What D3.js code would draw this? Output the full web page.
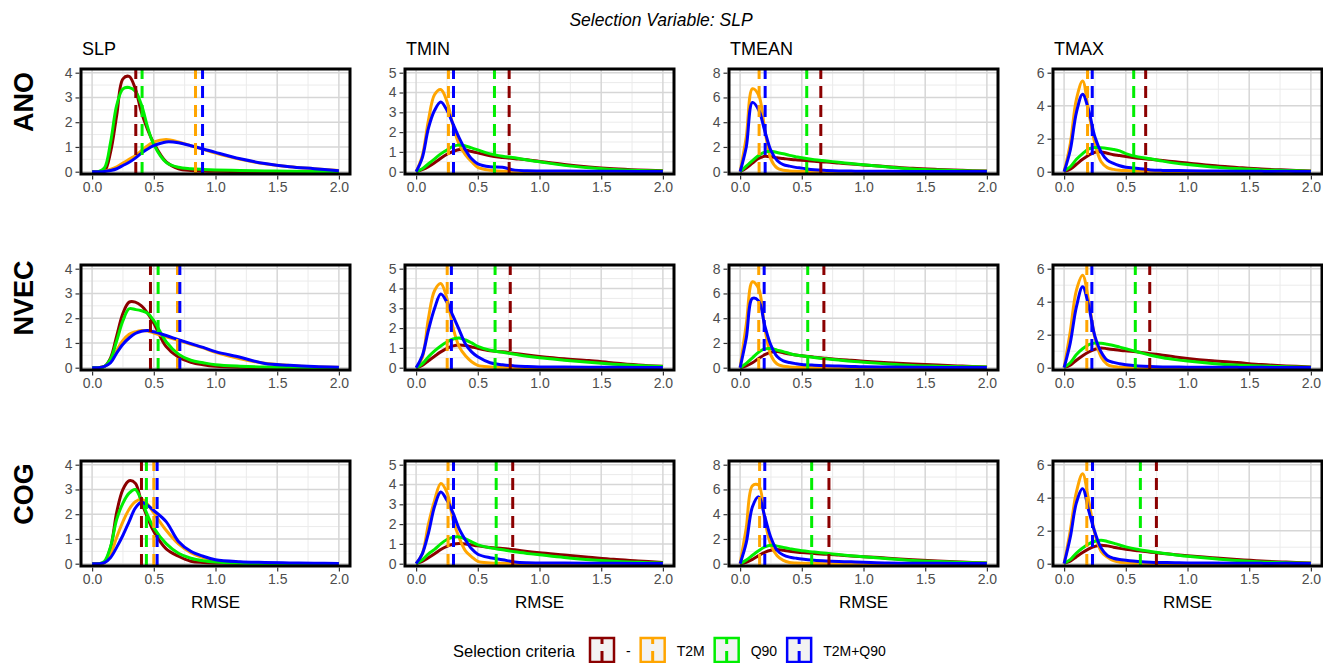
<!DOCTYPE html>
<html>
<head>
<meta charset="utf-8">
<script src="https://cdn.jsdelivr.net/npm/d3@7"></script>
<style>
    body { margin: 0; background: #fff; }
    text { font-family: "Liberation Sans", Arial, sans-serif; }
</style>
</head>
<body>
<div id="chart"></div>
<script>
// evaluation points of the density curves (RMSE)
const XS = [0, 0.05, 0.1, 0.15, 0.2, 0.25, 0.3, 0.35, 0.4, 0.45, 0.5, 0.6, 0.7, 0.8, 0.9, 1.0, 1.2, 1.4, 1.6, 1.8, 2.0];

const METHODS = ["ANO", "NVEC", "COG"];
const VARIABLES = ["SLP", "TMIN", "TMEAN", "TMAX"];
const CRITERIA = ["-", "T2M", "Q90", "T2M+Q90"];
const COLORS = ["#8b0000", "#ffa500", "#00ee00", "#0000ff"];
const X_TICKS = [0, 0.5, 1, 1.5, 2];
const Y_TICK_MAX = [4, 5, 8, 6];
const Y_TICK_STEP = [1, 1, 2, 2];

// densities per panel, series order: -, T2M, Q90, T2M+Q90
const ANO_SLP = [
    [0, 0, 0.02, 0.8, 2.3, 3.75, 3.85, 3.35, 2.4, 1.7, 1.15, 0.4, 0.12, 0.05, 0.03, 0.02, 0.01, 0, 0, 0, 0],
    [0, 0, 0.02, 0.1, 0.2, 0.35, 0.5, 0.65, 0.85, 1.05, 1.2, 1.3, 1.2, 1.05, 0.9, 0.75, 0.5, 0.32, 0.2, 0.12, 0.05],
    [0, 0, 0.15, 1.2, 2.7, 3.35, 3.4, 3.25, 2.7, 1.8, 1.1, 0.38, 0.18, 0.12, 0.09, 0.07, 0.05, 0.03, 0.02, 0.01, 0],
    [0, 0, 0.01, 0.05, 0.12, 0.25, 0.38, 0.55, 0.75, 0.92, 1.05, 1.2, 1.17, 1.05, 0.92, 0.78, 0.52, 0.33, 0.2, 0.12, 0.04]
];
const ANO_TMIN = [
    [0, 0.1, 0.25, 0.45, 0.68, 0.88, 1.02, 1.12, 1.1, 1.02, 0.95, 0.8, 0.72, 0.66, 0.6, 0.52, 0.36, 0.24, 0.15, 0.09, 0.05],
    [0, 0.8, 2.6, 3.9, 4.15, 3.55, 2.3, 1.35, 0.85, 0.5, 0.22, 0.07, 0.02, 0.01, 0, 0, 0, 0, 0, 0, 0],
    [0, 0.15, 0.4, 0.65, 0.9, 1.1, 1.28, 1.35, 1.3, 1.2, 1.1, 0.9, 0.78, 0.7, 0.59, 0.5, 0.32, 0.2, 0.11, 0.06, 0.03],
    [0, 0.7, 2.2, 3.1, 3.52, 3.1, 2.4, 1.7, 1.1, 0.65, 0.4, 0.25, 0.22, 0.08, 0.05, 0.04, 0.03, 0.02, 0.02, 0.01, 0.01]
];
const ANO_TMEAN = [
    [0, 0.3, 0.7, 1.08, 1.24, 1.2, 1.12, 1.07, 1.0, 0.96, 0.92, 0.84, 0.78, 0.7, 0.62, 0.55, 0.41, 0.27, 0.18, 0.11, 0.05],
    [0, 2.8, 6.7, 6.2, 3.4, 1.0, 0.3, 0.12, 0.06, 0.03, 0.02, 0.01, 0, 0, 0, 0, 0, 0, 0, 0, 0],
    [0, 0.45, 0.9, 1.3, 1.58, 1.65, 1.55, 1.45, 1.32, 1.22, 1.12, 0.97, 0.87, 0.76, 0.66, 0.56, 0.38, 0.22, 0.13, 0.07, 0.03],
    [0, 2.0, 5.6, 5.0, 3.3, 1.7, 0.9, 0.57, 0.45, 0.35, 0.29, 0.16, 0.1, 0.06, 0.05, 0.04, 0.03, 0.02, 0.02, 0.01, 0.01]
];
const ANO_TMAX = [
    [0.02, 0.15, 0.45, 0.75, 1.0, 1.18, 1.2, 1.12, 1.03, 0.98, 0.92, 0.82, 0.75, 0.68, 0.6, 0.53, 0.37, 0.26, 0.16, 0.1, 0.05],
    [0, 1.7, 4.4, 5.5, 3.6, 1.7, 0.6, 0.25, 0.14, 0.09, 0.07, 0.04, 0.02, 0.01, 0, 0, 0, 0, 0, 0, 0],
    [0.05, 0.3, 0.75, 1.1, 1.38, 1.47, 1.45, 1.41, 1.35, 1.26, 1.1, 0.9, 0.78, 0.64, 0.52, 0.43, 0.29, 0.19, 0.11, 0.07, 0.03],
    [0, 1.3, 3.6, 4.7, 3.7, 2.1, 1.2, 0.7, 0.5, 0.36, 0.27, 0.2, 0.11, 0.08, 0.07, 0.06, 0.04, 0.03, 0.02, 0.02, 0.01]
];
const NVEC_SLP = [
    [0, 0, 0.05, 0.4, 1.3, 2.2, 2.65, 2.65, 2.5, 2.2, 1.8, 0.85, 0.42, 0.22, 0.12, 0.06, 0.02, 0.01, 0, 0, 0],
    [0, 0, 0.05, 0.25, 0.7, 1.1, 1.35, 1.45, 1.5, 1.48, 1.4, 1.25, 1.1, 0.95, 0.8, 0.62, 0.36, 0.18, 0.09, 0.04, 0.02],
    [0, 0, 0.05, 0.35, 1.1, 1.9, 2.38, 2.35, 2.3, 2.2, 1.9, 1.05, 0.55, 0.3, 0.2, 0.12, 0.06, 0.03, 0.02, 0.01, 0],
    [0, 0, 0.05, 0.2, 0.6, 0.95, 1.2, 1.38, 1.47, 1.5, 1.45, 1.3, 1.13, 0.97, 0.82, 0.65, 0.42, 0.17, 0.1, 0.05, 0.02]
];
const NVEC_TMIN = [
    [0, 0.12, 0.35, 0.58, 0.8, 0.98, 1.1, 1.15, 1.12, 1.05, 0.98, 0.86, 0.8, 0.72, 0.64, 0.57, 0.45, 0.36, 0.24, 0.14, 0.07],
    [0, 0.5, 2.5, 3.9, 4.25, 3.5, 2.0, 1.05, 0.6, 0.3, 0.12, 0.04, 0.02, 0.01, 0, 0, 0, 0, 0, 0, 0],
    [0, 0.2, 0.55, 0.85, 1.1, 1.3, 1.45, 1.5, 1.4, 1.25, 1.08, 0.88, 0.78, 0.68, 0.58, 0.5, 0.38, 0.27, 0.18, 0.11, 0.06],
    [0, 0.6, 1.9, 3.0, 3.72, 3.3, 2.6, 1.9, 1.2, 0.8, 0.55, 0.25, 0.15, 0.09, 0.06, 0.04, 0.03, 0.02, 0.02, 0.01, 0.01]
];
const NVEC_TMEAN = [
    [0, 0.15, 0.4, 0.75, 1.05, 1.25, 1.3, 1.2, 1.1, 1.02, 0.96, 0.85, 0.76, 0.67, 0.6, 0.53, 0.41, 0.3, 0.21, 0.13, 0.06],
    [0, 3.5, 6.95, 6.4, 3.2, 1.0, 0.3, 0.12, 0.06, 0.03, 0.02, 0.01, 0, 0, 0, 0, 0, 0, 0, 0, 0],
    [0, 0.35, 0.8, 1.25, 1.52, 1.55, 1.42, 1.3, 1.15, 1.03, 0.96, 0.82, 0.72, 0.62, 0.52, 0.45, 0.3, 0.18, 0.12, 0.08, 0.05],
    [0, 2.4, 5.6, 5.4, 3.4, 1.8, 0.9, 0.55, 0.42, 0.33, 0.26, 0.2, 0.16, 0.13, 0.1, 0.07, 0.05, 0.03, 0.02, 0.02, 0.01]
];
const NVEC_TMAX = [
    [0.02, 0.15, 0.45, 0.72, 0.95, 1.12, 1.2, 1.15, 1.1, 1.05, 1.02, 0.95, 0.85, 0.76, 0.65, 0.56, 0.42, 0.31, 0.19, 0.11, 0.05],
    [0, 2.2, 4.7, 5.6, 4.0, 1.8, 0.65, 0.2, 0.07, 0.03, 0.02, 0.01, 0, 0, 0, 0, 0, 0, 0, 0, 0],
    [0.03, 0.3, 0.8, 1.15, 1.4, 1.5, 1.48, 1.42, 1.35, 1.25, 1.15, 0.95, 0.75, 0.6, 0.49, 0.4, 0.26, 0.16, 0.1, 0.06, 0.03],
    [0, 1.5, 3.7, 4.9, 3.7, 1.9, 0.95, 0.45, 0.32, 0.24, 0.18, 0.11, 0.07, 0.05, 0.04, 0.03, 0.03, 0.02, 0.02, 0.01, 0.01]
];
const COG_SLP = [
    [0, 0, 0.05, 0.65, 2.1, 3.0, 3.35, 3.25, 2.5, 1.85, 1.3, 0.6, 0.3, 0.1, 0.05, 0.03, 0.01, 0, 0, 0, 0],
    [0, 0, 0.05, 0.4, 1.08, 1.7, 2.2, 2.5, 2.6, 2.4, 2.05, 1.35, 0.8, 0.45, 0.25, 0.13, 0.05, 0.02, 0.01, 0.01, 0],
    [0, 0, 0.1, 0.7, 1.8, 2.45, 2.85, 3.0, 2.55, 1.95, 1.45, 0.81, 0.42, 0.22, 0.12, 0.07, 0.02, 0.01, 0, 0, 0],
    [0, 0, 0.04, 0.25, 0.67, 1.15, 1.7, 2.25, 2.48, 2.35, 2.15, 1.7, 0.9, 0.5, 0.3, 0.16, 0.08, 0.05, 0.03, 0.02, 0.01]
];
const COG_TMIN = [
    [0, 0.12, 0.3, 0.5, 0.72, 0.88, 0.98, 1.02, 1.0, 0.95, 0.9, 0.82, 0.77, 0.7, 0.62, 0.55, 0.44, 0.33, 0.22, 0.14, 0.06],
    [0, 0.5, 2.0, 3.2, 4.05, 3.6, 2.2, 1.3, 0.65, 0.35, 0.12, 0.04, 0.02, 0.01, 0, 0, 0, 0, 0, 0, 0],
    [0, 0.2, 0.5, 0.72, 1.0, 1.22, 1.34, 1.35, 1.25, 1.1, 0.95, 0.8, 0.7, 0.6, 0.52, 0.45, 0.31, 0.2, 0.12, 0.07, 0.03],
    [0, 0.5, 1.55, 2.9, 3.62, 3.2, 2.55, 1.75, 1.2, 0.75, 0.48, 0.3, 0.2, 0.09, 0.05, 0.04, 0.03, 0.02, 0.02, 0.01, 0.01]
];
const COG_TMEAN = [
    [0, 0.12, 0.35, 0.65, 0.92, 1.08, 1.14, 1.08, 1.0, 0.95, 0.9, 0.82, 0.77, 0.7, 0.63, 0.57, 0.45, 0.32, 0.21, 0.13, 0.06],
    [0, 2.9, 6.3, 6.35, 3.5, 1.5, 0.65, 0.27, 0.1, 0.05, 0.03, 0.01, 0, 0, 0, 0, 0, 0, 0, 0, 0],
    [0, 0.3, 0.68, 1.05, 1.35, 1.49, 1.42, 1.32, 1.22, 1.12, 1.04, 0.94, 0.84, 0.74, 0.64, 0.57, 0.4, 0.26, 0.17, 0.1, 0.05],
    [0, 1.7, 4.6, 5.4, 3.8, 2.1, 1.08, 0.7, 0.53, 0.45, 0.38, 0.28, 0.22, 0.18, 0.15, 0.12, 0.06, 0.04, 0.03, 0.02, 0.01]
];
const COG_TMAX = [
    [0.02, 0.15, 0.42, 0.68, 0.9, 1.05, 1.12, 1.08, 1.0, 0.93, 0.87, 0.78, 0.7, 0.62, 0.55, 0.48, 0.36, 0.25, 0.16, 0.1, 0.05],
    [0, 2.0, 4.35, 5.45, 3.8, 1.8, 0.75, 0.4, 0.18, 0.09, 0.05, 0.02, 0.01, 0, 0, 0, 0, 0, 0, 0, 0],
    [0.03, 0.25, 0.65, 0.95, 1.2, 1.36, 1.42, 1.35, 1.25, 1.13, 1.02, 0.86, 0.74, 0.63, 0.53, 0.45, 0.31, 0.19, 0.11, 0.06, 0.03],
    [0, 1.6, 3.7, 4.55, 3.2, 1.9, 0.95, 0.5, 0.33, 0.25, 0.21, 0.14, 0.09, 0.07, 0.06, 0.05, 0.04, 0.03, 0.02, 0.02, 0.01]
];

// mean RMSE (dashed lines) per variable, series order as above
const MEAN_ANO = [[0.354, 0.838, 0.405, 0.895], [0.754, 0.262, 0.635, 0.303], [0.654, 0.154, 0.54, 0.203], [0.661, 0.19, 0.564, 0.228]];
const MEAN_NVEC = [[0.473, 0.692, 0.535, 0.711], [0.763, 0.252, 0.64, 0.286], [0.679, 0.151, 0.548, 0.195], [0.694, 0.184, 0.577, 0.225]];
const MEAN_COG = [[0.40, 0.50, 0.44, 0.527], [0.783, 0.259, 0.649, 0.303], [0.72, 0.158, 0.58, 0.2], [0.748, 0.184, 0.618, 0.23]];

const DENSITIES = [
    [ANO_SLP, ANO_TMIN, ANO_TMEAN, ANO_TMAX],
    [NVEC_SLP, NVEC_TMIN, NVEC_TMEAN, NVEC_TMAX],
    [COG_SLP, COG_TMIN, COG_TMEAN, COG_TMAX]
];
const MEANS = [MEAN_ANO, MEAN_NVEC, MEAN_COG];

// layout
const width = 1323, height = 663;
const panelLeft = 81, panelStep = 324, panelW = 269;
const panelTop = 69, rowStep = 196, panelH = 105;

const svg = d3.select("#chart")
    .append("svg")
    .attr("width", width)
    .attr("height", height)
    .style("background", "#fff");

// subtitle
svg.append("text")
    .attr("x", 661)
    .attr("y", 26)
    .attr("text-anchor", "middle")
    .style("font-style", "italic")
    .style("font-size", "17.5px")
    .text("Selection Variable: SLP");

// column titles
VARIABLES.forEach((v, j) => {
    svg.append("text")
        .attr("x", panelLeft + j * panelStep + 1)
        .attr("y", 55)
        .style("font-size", "18px")
        .text(v);
});

// row titles
METHODS.forEach((m, i) => {
    svg.append("text")
        .attr("transform", `translate(33,${panelTop + i * rowStep + 33}) rotate(-90)`)
        .attr("text-anchor", "middle")
        .style("font-size", "27px")
        .style("font-weight", "bold")
        .text(m);
});

METHODS.forEach((m, i) => {
    VARIABLES.forEach((v, j) => {
        const x0 = panelLeft + j * panelStep;
        const y0 = panelTop + i * rowStep;
        const g = svg.append("g").attr("transform", `translate(${x0},${y0})`);
        const clipId = `clip-${i}-${j}`;
        g.append("clipPath").attr("id", clipId)
            .append("rect").attr("width", panelW).attr("height", panelH);

        const x = d3.scaleLinear()
            .domain([-0.09, 2.09])
            .range([0, panelW]);
        const tmax = Y_TICK_MAX[j];
        const y = d3.scaleLinear()
            .domain([-0.0232 * tmax, 1.0374 * tmax])
            .range([panelH, 0]);
        const yTicks = d3.range(0, tmax + 0.001, Y_TICK_STEP[j]);
        const yMinor = yTicks.slice(0, -1).map(t => t + Y_TICK_STEP[j] / 2);
        const xMinor = X_TICKS.slice(0, -1).map(t => t + 0.25);

        // minor grid
        g.selectAll(".xminor").data(xMinor).join("line")
            .attr("x1", d => x(d)).attr("x2", d => x(d))
            .attr("y1", 0).attr("y2", panelH)
            .attr("stroke", "#ebebeb").attr("stroke-width", 1);
        g.selectAll(".yminor").data(yMinor).join("line")
            .attr("x1", 0).attr("x2", panelW)
            .attr("y1", d => y(d)).attr("y2", d => y(d))
            .attr("stroke", "#ebebeb").attr("stroke-width", 1);

        // major grid
        g.selectAll(".xmajor").data(X_TICKS).join("line")
            .attr("x1", d => x(d)).attr("x2", d => x(d))
            .attr("y1", 0).attr("y2", panelH)
            .attr("stroke", "#d6d6d6").attr("stroke-width", 1.5);
        g.selectAll(".ymajor").data(yTicks).join("line")
            .attr("x1", 0).attr("x2", panelW)
            .attr("y1", d => y(d)).attr("y2", d => y(d))
            .attr("stroke", "#d6d6d6").attr("stroke-width", 1.5);

        // densities
        const line = d3.line()
            .x(d => x(d[0]))
            .y(d => y(d[1]))
            .curve(d3.curveCatmullRom.alpha(0.5));
        const curves = g.append("g").attr("clip-path", `url(#${clipId})`);
        DENSITIES[i][j].forEach((vals, k) => {
            curves.append("path")
                .datum(XS.map((xv, n) => [xv, vals[n]]))
                .attr("d", line)
                .attr("fill", "none")
                .attr("stroke", COLORS[k])
                .attr("stroke-width", 3)
                .attr("stroke-linejoin", "round");
        });

        // mean lines
        g.selectAll(".vline").data(MEANS[i][j]).join("line")
            .attr("x1", d => x(d)).attr("x2", d => x(d))
            .attr("y1", panelH).attr("y2", 0)
            .attr("stroke", (d, k) => COLORS[k])
            .attr("stroke-width", 3)
            .attr("stroke-dasharray", "12,7");

        // panel border
        g.append("rect")
            .attr("width", panelW).attr("height", panelH)
            .attr("fill", "none")
            .attr("stroke", "#000")
            .attr("stroke-width", 3);

        // axes
        const xAxis = d3.axisBottom(x)
            .tickValues(X_TICKS)
            .tickFormat(d3.format(".1f"))
            .tickSize(4)
            .tickPadding(3);
        const gx = g.append("g")
            .attr("transform", `translate(0,${panelH + 1.5})`)
            .call(xAxis);
        const yAxis = d3.axisLeft(y)
            .tickValues(yTicks)
            .tickFormat(d3.format("d"))
            .tickSize(4)
            .tickPadding(3);
        const gy = g.append("g")
            .attr("transform", "translate(-1.5,0)")
            .call(yAxis);
        [gx, gy].forEach(a => {
            a.select(".domain").remove();
            a.selectAll(".tick line").attr("stroke", "#333").attr("stroke-width", 1.2);
            a.selectAll(".tick text")
                .attr("fill", "#4d4d4d")
                .style("font-size", "14px")
                .style("font-family", "'Liberation Sans', Arial, sans-serif");
        });

        if (i === METHODS.length - 1) {
            g.append("text")
                .attr("x", panelW / 2)
                .attr("y", panelH + 42)
                .attr("text-anchor", "middle")
                .style("font-size", "17px")
                .text("RMSE");
        }
    });
});

// legend
const legend = svg.append("g");
legend.append("text")
    .attr("x", 453)
    .attr("y", 657)
    .style("font-size", "16.5px")
    .text("Selection criteria");
let lx = 590;
const keyTop = 638, keyW = 24, keyH = 24;
CRITERIA.forEach((c, k) => {
    legend.append("rect")
        .attr("x", lx).attr("y", keyTop)
        .attr("width", keyW).attr("height", keyH)
        .attr("fill", "#f2f2f2")
        .attr("stroke", COLORS[k])
        .attr("stroke-width", 2.5);
    legend.append("line")
        .attr("x1", lx + keyW / 2).attr("x2", lx + keyW / 2)
        .attr("y1", keyTop + keyH).attr("y2", keyTop - 1)
        .attr("stroke", COLORS[k])
        .attr("stroke-width", 3)
        .attr("stroke-dasharray", "11,7");
    const t = legend.append("text")
        .attr("x", lx + keyW + 12)
        .attr("y", 656)
        .style("font-size", "14px")
        .text(c);
    lx += keyW + 12 + t.node().getComputedTextLength() + 10;
});
</script>
</body>
</html>
